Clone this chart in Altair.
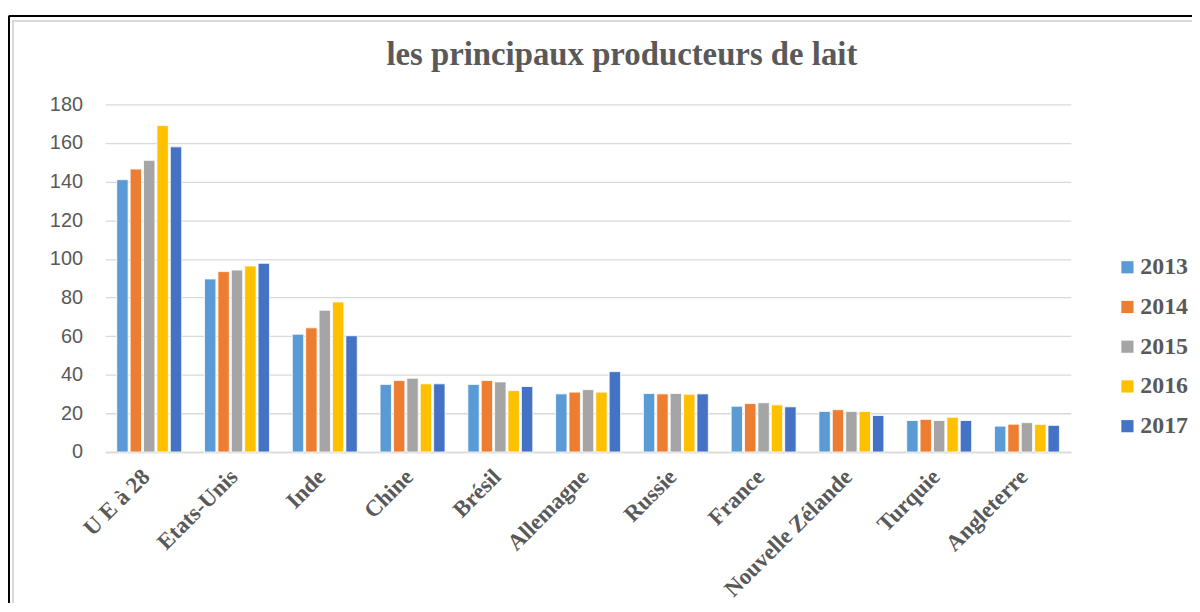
import altair as alt
import pandas as pd

countries = ["U E à 28", "Etats-Unis", "Inde", "Chine", "Brésil", "Allemagne",
             "Russie", "France", "Nouvelle Zélande", "Turquie", "Angleterre"]
years = ["2013", "2014", "2015", "2016", "2017"]
v2013 = [141, 89.6, 61, 35, 35, 30.1, 30.3, 23.7, 21, 16.3, 13.4]
v2014 = [146.5, 93.4, 64.3, 37, 37, 31, 30.1, 25.1, 21.9, 16.9, 14.4]
v2015 = [151, 94.2, 73.4, 38.2, 36.3, 32.3, 30.3, 25.5, 21, 16.3, 15.2]
v2016 = [169, 96.3, 77.7, 35.3, 31.8, 31, 29.9, 24.4, 21, 18, 14.3]
v2017 = [158, 97.7, 60.2, 35.3, 33.9, 41.6, 30.1, 23.4, 18.9, 16.3, 13.8]
colors = ["#5B9BD5", "#ED7D31", "#A5A5A5", "#FFC000", "#4472C4"]
title_text = "les principaux producteurs de lait"

rows = []
for yr, vals in zip(years, [v2013, v2014, v2015, v2016, v2017]):
    for c, v in zip(countries, vals):
        rows.append({"pays": c, "annee": yr, "valeur": v})
df = pd.DataFrame(rows)

serif = "Liberation Serif"
grey = "#595959"

bars = alt.Chart(df).mark_bar(stroke="white", strokeWidth=0.8).encode(
    x=alt.X("pays:N", sort=countries, title=None,
            scale=alt.Scale(paddingInner=0.26, paddingOuter=0.13),
            axis=alt.Axis(labelAngle=-45, labelFont=serif, labelFontWeight="bold",
                          labelFontSize=23, labelColor=grey,
                          labelPadding=21, labelOffset=-3, ticks=False, domainColor="#D9D9D9",
                          domainWidth=1.5, labelAlign="right", labelBaseline="middle")),
    xOffset=alt.XOffset("annee:N", sort=years, scale=alt.Scale(paddingInner=0.15)),
    y=alt.Y("valeur:Q", title=None,
            scale=alt.Scale(domain=[0, 180], nice=False),
            axis=alt.Axis(values=list(range(0, 181, 20)), grid=True, gridColor="#D9D9D9",
                          gridWidth=1.3, domain=False, ticks=False, labelFont="Liberation Sans",
                          labelFontSize=20, labelColor=grey, labelPadding=23)),
    color=alt.Color("annee:N", sort=years,
                    scale=alt.Scale(domain=years, range=colors),
                    legend=alt.Legend(title=None, orient="none", legendX=1017, legendY=152,
                                      symbolType="square", symbolSize=150, symbolStrokeWidth=0,
                                      labelFont=serif, labelFontWeight="bold", labelFontSize=24,
                                      labelColor=grey, rowPadding=16, labelOffset=1)),
)

title = alt.Chart(pd.DataFrame({"t": [title_text]})).mark_text(
    font=serif, fontWeight="bold", fontSize=33, color=grey, align="center",
    baseline="alphabetic").encode(text="t:N", x=alt.value(520), y=alt.value(-40))

frame_top = alt.Chart(df).mark_rule(color="black", strokeWidth=2).encode(
    x=alt.value(-97), x2=alt.value(1100), y=alt.value(-89))
frame_left = alt.Chart(df).mark_rule(color="black", strokeWidth=2).encode(
    x=alt.value(-97), y=alt.value(-89), y2=alt.value(520))
inner_top = alt.Chart(df).mark_rule(color="#D9D9D9", strokeWidth=1).encode(
    x=alt.value(-93), x2=alt.value(1100), y=alt.value(-84))
inner_left = alt.Chart(df).mark_rule(color="#D9D9D9", strokeWidth=1).encode(
    x=alt.value(-93), y=alt.value(-84), y2=alt.value(520))

chart = alt.layer(bars, title, frame_top, frame_left, inner_top, inner_left).properties(
    width=972, height=350,
    autosize=alt.AutoSizeParams(type="none"),
    padding={"left": 98, "top": 95, "right": 122, "bottom": 150},
).configure_view(stroke=None)

chart.save("out.html", embed_options={"renderer": "svg", "actions": False})
